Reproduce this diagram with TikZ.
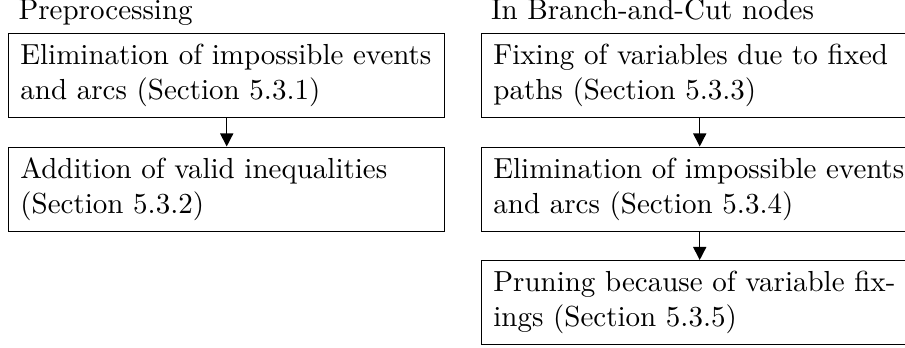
\documentclass[tikz,border=0pt]{standalone}
\usetikzlibrary{arrows.meta}
\begin{document}
\begin{tikzpicture}[x=0.3448pt,y=-0.3448pt,
  stepbox/.style={draw, line width=0.5pt, text width=5cm, align=left, inner sep=3.333pt, anchor=north west, minimum height=84*0.3448pt, minimum width=436*0.3448pt},
  title/.style={anchor=base west, inner sep=0pt},
  arr/.style={-{Triangle[length=4.5pt,width=4.5pt]}, line width=0.5pt}]
\useasboundingbox (0,0) rectangle (905,347);
\node[title] (tp) at (18,19) {Preprocessing};
\node[title] (tb) at (490.5,19) {In Branch-and-Cut nodes};
\node[stepbox] (p1) at (8,33) {Elimination of impossible events and arcs (Section 5.3.1)};
\node[stepbox] (p2) at (8,146.5) {Addition of valid inequalities (Section 5.3.2)};
\node[stepbox] (b1) at (481,33) {Fixing of variables due to fixed paths (Section 5.3.3)};
\node[stepbox] (b2) at (481,146.5) {Elimination of impossible events and arcs (Section 5.3.4)};
\node[stepbox] (b3) at (481,260) {Pruning because of variable fix-\\ings (Section 5.3.5)};
\draw[arr] (p1) -- (p2);
\draw[arr] (b1) -- (b2);
\draw[arr] (b2) -- (b3);
\end{tikzpicture}
\end{document}
